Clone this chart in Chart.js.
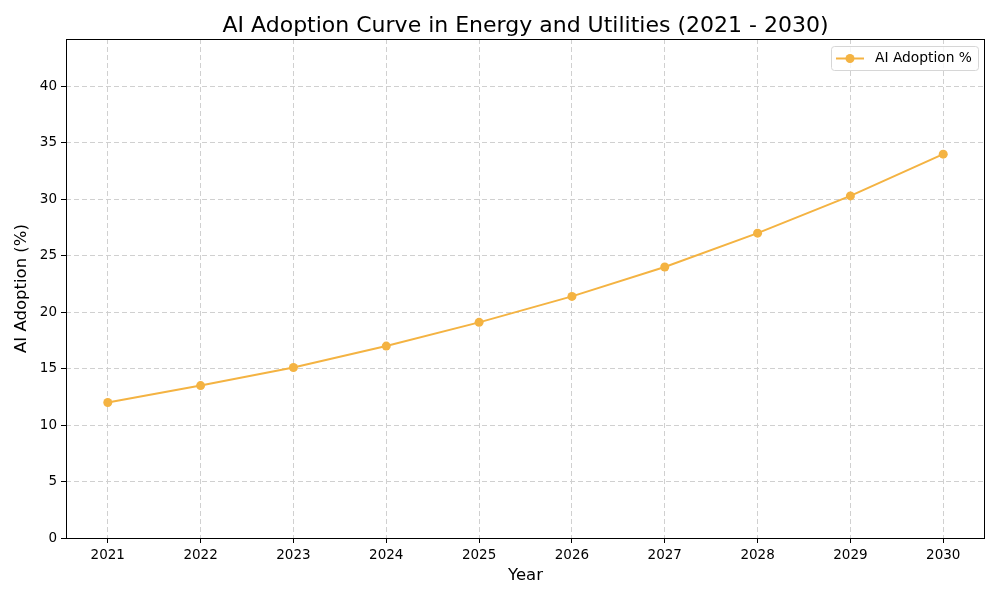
<!DOCTYPE html>
<html>
<head>
<meta charset="utf-8">
<script src="https://cdn.jsdelivr.net/npm/chart.js@4.4.1/dist/chart.umd.min.js"></script>
<style>
  body { margin: 0; background: #fff; }
  #wrap { width: 1000px; height: 600px; }
</style>
</head>
<body>
<div id="wrap"><canvas id="canvas" width="1000" height="600"></canvas></div>
<script>
// values
var years = [2021, 2022, 2023, 2024, 2025, 2026, 2027, 2028, 2029, 2030];
var adoption = [12.0, 13.5, 15.1, 17.0, 19.1, 21.4, 24.0, 27.0, 30.3, 34.0];
var yTicks = [0, 5, 10, 15, 20, 25, 30, 35, 40];
var seriesName = 'AI Adoption %';

var lineColor = '#f4b342';
var font = 'DejaVu Sans';

var points = [];
for (let i = 0; i < years.length; i++) {
  points.push({ x: years[i], y: adoption[i] });
}

// title over the plot, full frame, legend box in top right
const extras = {
  id: 'extras',
  afterDraw(chart) {
    const ctx = chart.ctx, a = chart.chartArea;
    ctx.save();
    ctx.strokeStyle = '#000'; ctx.lineWidth = 1;
    ctx.strokeRect(a.left + 0.5, a.top + 0.5, a.right - a.left - 1, a.bottom - a.top);
    ctx.fillStyle = '#000';
    ctx.font = '22px "' + font + '"';
    ctx.textAlign = 'center'; ctx.textBaseline = 'alphabetic';
    ctx.fillText('AI Adoption Curve in Energy and Utilities (2021 - 2030)', (a.left + a.right) / 2, 32);

    // legend
    var bx = a.right - 154, by = a.top + 7, bw = 147, bh = 24;
    ctx.fillStyle = 'rgba(255,255,255,0.8)';
    ctx.strokeStyle = '#d6d6d6';
    ctx.beginPath();
    ctx.roundRect(bx + 0.5, by + 0.5, bw, bh, 3);
    ctx.fill(); ctx.stroke();
    var cy = by + bh / 2 + 0.5;
    ctx.strokeStyle = lineColor; ctx.lineWidth = 2;
    ctx.beginPath(); ctx.moveTo(bx + 5, cy); ctx.lineTo(bx + 33, cy); ctx.stroke();
    ctx.fillStyle = lineColor;
    ctx.beginPath(); ctx.arc(bx + 19, cy, 4.5, 0, Math.PI * 2); ctx.fill();
    ctx.fillStyle = '#000';
    ctx.font = '13.8px "' + font + '"';
    ctx.textAlign = 'left'; ctx.textBaseline = 'middle';
    ctx.fillText(seriesName, bx + 44, cy);
    ctx.restore();
  }
};

const ctx = document.getElementById('canvas');
new Chart(ctx, {
  type: 'line',
  data: {
    datasets: [{
      label: seriesName,
      data: points,
      borderColor: lineColor,
      backgroundColor: lineColor,
      borderWidth: 2,
      pointRadius: 4.5,
      pointHoverRadius: 4.5,
      pointBorderWidth: 0,
      pointStyle: 'circle',
      tension: 0
    }]
  },
  options: {
    responsive: false,
    animation: false,
    devicePixelRatio: 1,
    layout: { padding: { top: 39, right: 15, left: 0, bottom: 14 } },
    scales: {
      x: {
        type: 'linear',
        min: 2020.55,
        max: 2030.45,
        afterBuildTicks: function (s) { s.ticks = years.map(v => ({ value: v })); },
        afterFit: function (s) { s.height = 48; },
        ticks: {
          color: '#000', font: { family: font, size: 13.5 }, padding: 4,
          callback: v => String(v), maxRotation: 0
        },
        grid: {
          color: '#d0d0d0', tickColor: '#000',
          tickLength: 5, tickBorderDash: [], drawTicks: true
        },
        border: { display: false, dash: [5, 3] },
        title: { display: true, text: 'Year', color: '#000', font: { family: font, size: 16.5 }, padding: { top: 4, bottom: 0 } }
      },
      y: {
        min: 0,
        max: 44.2,
        afterBuildTicks: function (s) { s.ticks = yTicks.map(v => ({ value: v })); },
        afterFit: function (s) { s.width = 66; },
        ticks: { color: '#000', font: { family: font, size: 13.5 }, padding: 4 },
        grid: {
          color: '#d0d0d0', tickColor: '#000',
          tickLength: 5, tickBorderDash: []
        },
        border: { display: false, dash: [5, 3] },
        title: { display: true, text: 'AI Adoption (%)', color: '#000', font: { family: font, size: 16.5 }, padding: { top: 12, bottom: 4 } }
      }
    },
    plugins: {
      legend: { display: false },
      tooltip: { enabled: false }
    }
  },
  plugins: [extras]
});
</script>
</body>
</html>
